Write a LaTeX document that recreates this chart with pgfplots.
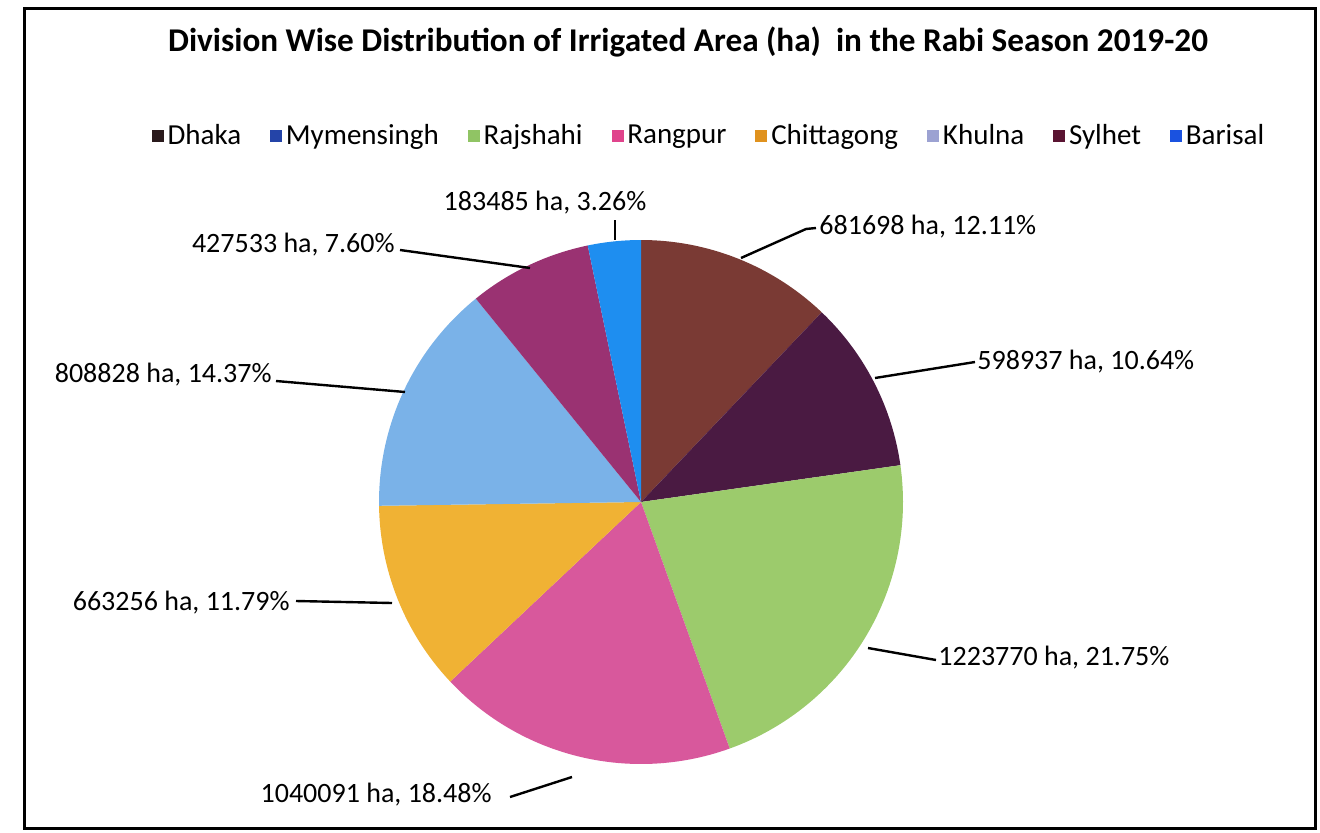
\documentclass[border=0pt]{standalone}
\usepackage{fontspec}
\setmainfont{Carlito}
\usepackage{pgfplots}
\pgfplotsset{compat=1.18}
% values (ha)
\def\vA{681698}  % Dhaka
\def\vB{598937}  % Mymensingh
\def\vC{1223770} % Rajshahi
\def\vD{1040091} % Rangpur
\def\vE{663256}  % Chittagong
\def\vF{808828}  % Khulna
\def\vG{427533}  % Sylhet
\def\vH{183485}  % Barisal
\edef\tot{\fpeval{\vA+\vB+\vC+\vD+\vE+\vF+\vG+\vH}}
\edef\aO{90}
\edef\aA{\fpeval{90-360*(\vA)/\tot}}
\edef\aB{\fpeval{90-360*(\vA+\vB)/\tot}}
\edef\aC{\fpeval{90-360*(\vA+\vB+\vC)/\tot}}
\edef\aD{\fpeval{90-360*(\vA+\vB+\vC+\vD)/\tot}}
\edef\aE{\fpeval{90-360*(\vA+\vB+\vC+\vD+\vE)/\tot}}
\edef\aF{\fpeval{90-360*(\vA+\vB+\vC+\vD+\vE+\vF)/\tot}}
\edef\aG{\fpeval{90-360*(\vA+\vB+\vC+\vD+\vE+\vF+\vG)/\tot}}
\edef\aH{-270}
% slice colours
\definecolor{sA}{HTML}{7A3A34}
\definecolor{sB}{HTML}{4A1A42}
\definecolor{sC}{HTML}{9CCB6C}
\definecolor{sD}{HTML}{D8589C}
\definecolor{sE}{HTML}{F0B234}
\definecolor{sF}{HTML}{7AB2E8}
\definecolor{sG}{HTML}{9A3272}
\definecolor{sH}{HTML}{1E8EF0}
% legend colours
\definecolor{lA}{HTML}{2A1A1C}
\definecolor{lB}{HTML}{2444A8}
\definecolor{lC}{HTML}{90C464}
\definecolor{lD}{HTML}{E0448C}
\definecolor{lE}{HTML}{E0921E}
\definecolor{lF}{HTML}{9CA2D2}
\definecolor{lG}{HTML}{5A1432}
\definecolor{lH}{HTML}{1A52E0}
\newcommand{\cx}{641}
\newcommand{\cy}{330}
\newcommand{\rr}{262}
\begin{document}
\begin{tikzpicture}
\begin{axis}[
  width=660pt, height=416pt, scale only axis,
  xmin=0, xmax=1320, ymin=0, ymax=832,
  hide axis, clip=false,
  legend columns=8,
  legend style={at={(axis cs:710,696)}, anchor=center, draw=none, fill=none,
    font=\fontsize{14.5}{17}\selectfont,
    /tikz/every even column/.append style={column sep=12.5pt},
    inner sep=0pt},
  legend cell align=left,
  legend image code/.code={\fill[#1] (0pt,-2.75pt) rectangle (5.5pt,2.75pt);},
]
\path (axis cs:0,0) rectangle (axis cs:1320,832);
% slices
\addplot[fill=sA, draw=none, domain=\aA:\aO, samples=60, forget plot] ({\cx+\rr*cos(x)},{\cy+\rr*sin(x)}) -- (axis cs:\cx,\cy) -- cycle;
\addplot[fill=sB, draw=none, domain=\aB:\aA, samples=60, forget plot] ({\cx+\rr*cos(x)},{\cy+\rr*sin(x)}) -- (axis cs:\cx,\cy) -- cycle;
\addplot[fill=sC, draw=none, domain=\aC:\aB, samples=60, forget plot] ({\cx+\rr*cos(x)},{\cy+\rr*sin(x)}) -- (axis cs:\cx,\cy) -- cycle;
\addplot[fill=sD, draw=none, domain=\aD:\aC, samples=60, forget plot] ({\cx+\rr*cos(x)},{\cy+\rr*sin(x)}) -- (axis cs:\cx,\cy) -- cycle;
\addplot[fill=sE, draw=none, domain=\aE:\aD, samples=60, forget plot] ({\cx+\rr*cos(x)},{\cy+\rr*sin(x)}) -- (axis cs:\cx,\cy) -- cycle;
\addplot[fill=sF, draw=none, domain=\aF:\aE, samples=60, forget plot] ({\cx+\rr*cos(x)},{\cy+\rr*sin(x)}) -- (axis cs:\cx,\cy) -- cycle;
\addplot[fill=sG, draw=none, domain=\aG:\aF, samples=60, forget plot] ({\cx+\rr*cos(x)},{\cy+\rr*sin(x)}) -- (axis cs:\cx,\cy) -- cycle;
\addplot[fill=sH, draw=none, domain=\aH:\aG, samples=60, forget plot] ({\cx+\rr*cos(x)},{\cy+\rr*sin(x)}) -- (axis cs:\cx,\cy) -- cycle;
% leader lines
\addplot[black, line width=1.2pt, forget plot] coordinates {(615,612) (615,592)};
\addplot[black, line width=1.2pt, forget plot] coordinates {(400,582) (530,564)};
\addplot[black, line width=1.2pt, forget plot] coordinates {(276,451) (405,440)};
\addplot[black, line width=1.2pt, forget plot] coordinates {(296,231) (392,229)};
\addplot[black, line width=1.2pt, forget plot] coordinates {(510,35) (572,55)};
\addplot[black, line width=1.2pt, forget plot] coordinates {(868,184) (936,172)};
\addplot[black, line width=1.2pt, forget plot] coordinates {(875,454) (975,470)};
\addplot[black, line width=1.2pt, forget plot] coordinates {(741,574) (806,603) (816,604)};
% legend
\addlegendimage{lA}\addlegendentry{Dhaka}
\addlegendimage{lB}\addlegendentry{Mymensingh}
\addlegendimage{lC}\addlegendentry{Rajshahi}
\addlegendimage{lD}\addlegendentry{Rangpur}
\addlegendimage{lE}\addlegendentry{Chittagong}
\addlegendimage{lF}\addlegendentry{Khulna}
\addlegendimage{lG}\addlegendentry{Sylhet}
\addlegendimage{lH}\addlegendentry{Barisal}
% labels
\begin{scope}[every node/.style={font=\fontsize{14}{17}\selectfont, inner sep=0pt}]
\node[anchor=center] at (axis cs:545,629) {183485 ha, 3.26\%};
\node[anchor=east] at (axis cs:395,587) {427533 ha, 7.60\%};
\node[anchor=east] at (axis cs:272,457) {808828 ha, 14.37\%};
\node[anchor=east] at (axis cs:290,229) {663256 ha, 11.79\%};
\node[anchor=east] at (axis cs:492,37) {1040091 ha, 18.48\%};
\node[anchor=west] at (axis cs:938,174) {1223770 ha, 21.75\%};
\node[anchor=west] at (axis cs:977,470) {598937 ha, 10.64\%};
\node[anchor=west] at (axis cs:819,605) {681698 ha, 12.11\%};
\end{scope}
% title
\node[font=\bfseries\fontsize{16.6}{19}\selectfont, inner sep=0pt] at (axis cs:688,790) {Division Wise Distribution of Irrigated Area (ha)\ \ in the Rabi Season 2019-20};
% frame
\draw[line width=1.5pt] (axis cs:24,4) rectangle (axis cs:1315,823);
\end{axis}
\end{tikzpicture}
\end{document}
